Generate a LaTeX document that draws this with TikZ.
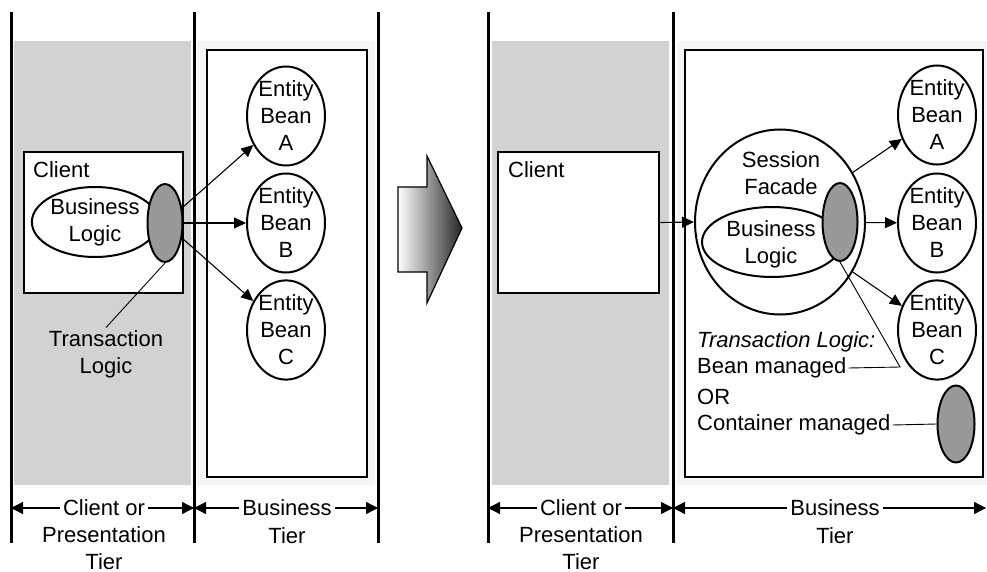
\documentclass[tikz,border=0pt]{standalone}
\usepackage{fontspec}
\setmainfont{Liberation Sans}
\usetikzlibrary{positioning, arrows.meta, shapes.geometric}

\begin{document}
\begin{tikzpicture}[
        x=1pt, y=-1pt,
        font=\fontsize{22}{27}\selectfont,
        tier/.style={line width=3pt},
        tierbox/.style={rectangle, draw=black, line width=2.5pt, fill=white, inner sep=0pt},
        bean/.style={ellipse, draw=black, line width=2pt, fill=white, minimum width=78pt, minimum height=99pt, inner sep=0pt, align=center},
        logic/.style={ellipse, draw=black, line width=2pt, fill=white, inner sep=0pt, align=center},
        txn/.style={ellipse, draw=black, line width=2pt, fill=gray!80, minimum width=35pt, minimum height=78pt, inner sep=0pt},
        conn/.style={-{Triangle[length=12pt,width=11pt]}, line width=1.1pt},
        callout/.style={line width=0.9pt},
        dimline/.style={-{Triangle[length=12pt,width=12pt]}, line width=1.3pt},
        lbl/.style={inner sep=3pt, align=center},
        note/.style={anchor=west, inner sep=2pt}
    ]
    \useasboundingbox (0,0) rectangle (987,572);

    % tier backgrounds
    \fill[gray!35] (14,41) rectangle (191,485);
    \fill[gray!8] (197,41) rectangle (375,485);
    \fill[gray!35] (492,41) rectangle (669,485);
    \fill[gray!8] (677,41) rectangle (987,485);

    % tier boundaries
    \foreach \x in {11,194,378,488,673}
        \draw[tier] (\x,12) -- (\x,543);

    % ---- before: transaction logic in the client ----
    \node[tierbox, minimum width=159pt, minimum height=141pt] (cl1) at (103.5,222.5) {};
    \node[anchor=west, inner sep=0pt] (cl1t) at (33,170) {Client};
    \node[logic, minimum width=125pt, minimum height=70pt] (bl1) at (95,222) {Business\\Logic};
    \node[txn] (tx1) at (165,223) {};

    \node[tierbox, minimum width=160pt, minimum height=427pt] (bt1) at (287,263.5) {};
    \node[bean] (a1) at (286,116) {Entity\\Bean\\A};
    \node[bean] (b1) at (286,223) {Entity\\Bean\\B};
    \node[bean] (c1) at (286,330) {Entity\\Bean\\C};

    \draw[conn] (tx1) -- (a1);
    \draw[conn] (tx1) -- (b1);
    \draw[conn] (tx1) -- (c1);

    \node[lbl] (tl1) at (106,354.5) {Transaction\\Logic};
    \draw[callout] (tx1.south) -- (tl1.north);

    % refactoring arrow
    \shade[left color=white, right color=black!85, draw=black, line width=1.2pt]
        (398,187) -- (427,187) -- (427,156) -- (462,228) -- (427,303) -- (427,272) -- (398,272) -- cycle;

    % ---- after: session facade ----
    \node[tierbox, minimum width=161pt, minimum height=141pt] (cl2) at (578.5,222.5) {};
    \node[anchor=west, inner sep=0pt] (cl2t) at (508,170) {Client};

    \node[tierbox, minimum width=298pt, minimum height=427pt] (bt2) at (834,263.5) {};
    \node[ellipse, draw=black, line width=2pt, fill=white, minimum width=170pt, minimum height=185pt] (sf) at (780,222) {};
    \node[lbl] (sft) at (781,173.5) {Session\\Facade};
    \node[logic, minimum width=140pt, minimum height=70pt] (bl2) at (772,242) {};
    \node[lbl] (bl2t) at (771,244) {Business\\Logic};
    \node[txn] (tx2) at (840,222) {};

    \node[bean] (a2) at (937,115) {Entity\\Bean\\A};
    \node[bean] (b2) at (937,223) {Entity\\Bean\\B};
    \node[bean] (c2) at (937,330) {Entity\\Bean\\C};

    \draw[conn] (cl2.east) -- (sf.west);
    \draw[conn] (sf) -- (a2);
    \draw[conn] (sf) -- (b2);
    \draw[conn] (sf) -- (c2);

    \node[note] (tl2) at (695,342) {\itshape Transaction Logic:};
    \node[note] (bm) at (695,368) {Bean managed};
    \node[note] (or) at (695,397) {OR};
    \node[note] (cm) at (695,425) {Container managed};
    \node[txn, minimum width=37pt, minimum height=77pt] (tx3) at (956,424) {};

    \coordinate (k1) at (900,367);
    \draw[callout] (tx2.south) -- (k1) -- (bm.east);
    \draw[callout] (cm.east) -- (tx3.west);

    % ---- tier captions ----
    \coordinate (l0) at (11,508);
    \coordinate (l1) at (194,508);
    \coordinate (l2) at (378,508);
    \coordinate (r0) at (488,508);
    \coordinate (r1) at (673,508);
    \coordinate (r2) at (986,508);

    \node[lbl] (ct1) at (104,508) {Client or};
    \node[lbl, inner sep=0pt] (ct1b) at (104,548) {Presentation\\Tier};
    \node[lbl] (bu1) at (287,508) {Business};
    \node[lbl] (bu1b) at (287,536) {Tier};
    \node[lbl] (ct2) at (581,508) {Client or};
    \node[lbl, inner sep=0pt] (ct2b) at (581,548) {Presentation\\Tier};
    \node[lbl] (bu2) at (835,508) {Business};
    \node[lbl] (bu2b) at (835,536) {Tier};

    \draw[dimline] (ct1) -- (l0);
    \draw[dimline] (ct1) -- (l1);
    \draw[dimline] (bu1) -- (l1);
    \draw[dimline] (bu1) -- (l2);
    \draw[dimline] (ct2) -- (r0);
    \draw[dimline] (ct2) -- (r1);
    \draw[dimline] (bu2) -- (r1);
    \draw[dimline] (bu2) -- (r2);
\end{tikzpicture}
\end{document}
